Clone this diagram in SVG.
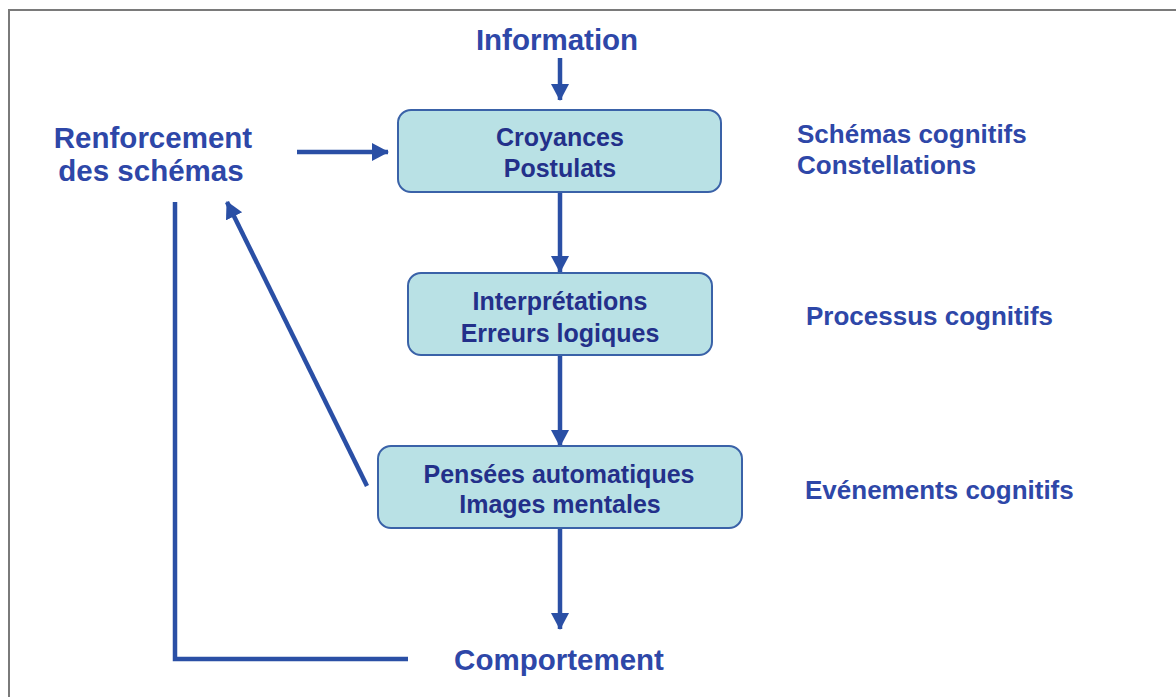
<svg xmlns="http://www.w3.org/2000/svg" width="1176" height="697" viewBox="0 0 1176 697">
  <style>
    .lbl { font-family: "Liberation Sans", Arial, sans-serif; font-weight: bold; fill: #2E47A8; }
    .big { font-size: 29.5px; }
    .side { font-size: 26px; }
    .box rect { fill: #B9E1E5; stroke: #3A62A8; stroke-width: 2; }
    .box text { font-family: "Liberation Sans", Arial, sans-serif; font-weight: bold; font-size: 25px; fill: #23308A; text-anchor: middle; }
    .conn { stroke: #2A4FA5; stroke-width: 4.5; fill: none; }
  </style>
  <defs>
    <marker id="head" markerUnits="userSpaceOnUse" markerWidth="20" markerHeight="20" refX="16" refY="9" orient="auto">
      <path d="M0,0 L17,9 L0,18 Z" fill="#2A4FA5"/>
    </marker>
  </defs>

  <rect width="1176" height="697" fill="#FFFFFF"/>
  <!-- page frame -->
  <path d="M9,697 V10 H1176" fill="none" stroke="#7A7A7A" stroke-width="2"/>

  <g id="connectors">
    <line class="conn" x1="560" y1="58" x2="560" y2="100" marker-end="url(#head)"/>
    <line class="conn" x1="297" y1="152" x2="388" y2="152" marker-end="url(#head)"/>
    <line class="conn" x1="560" y1="193" x2="560" y2="272" marker-end="url(#head)"/>
    <line class="conn" x1="560" y1="356" x2="560" y2="446" marker-end="url(#head)"/>
    <line class="conn" x1="560" y1="528" x2="560" y2="629" marker-end="url(#head)"/>
    <line class="conn" x1="367" y1="486" x2="227" y2="202" marker-end="url(#head)"/>
    <path class="conn" d="M175,202 V659 H408"/>
  </g>

  <g id="information">
    <text class="lbl big" x="557" y="50" text-anchor="middle">Information</text>
  </g>

  <g id="renforcement">
    <text class="lbl big" x="153" y="148" text-anchor="middle">Renforcement</text>
    <text class="lbl big" x="151" y="181" text-anchor="middle">des schémas</text>
  </g>

  <g id="croyances" class="box">
    <rect x="398" y="110" width="323" height="82" rx="13"/>
    <text x="560" y="146">Croyances</text>
    <text x="560" y="177">Postulats</text>
  </g>

  <g id="interpretations" class="box">
    <rect x="408" y="273" width="304" height="82" rx="13"/>
    <text x="560" y="310">Interprétations</text>
    <text x="560" y="342">Erreurs logiques</text>
  </g>

  <g id="pensees" class="box">
    <rect x="378" y="446" width="364" height="82" rx="13"/>
    <text x="559" y="483">Pensées automatiques</text>
    <text x="560" y="513">Images mentales</text>
  </g>

  <g id="comportement">
    <text class="lbl big" x="559" y="670" text-anchor="middle">Comportement</text>
  </g>

  <g id="schemas-cognitifs">
    <text class="lbl side" x="797" y="143">Schémas cognitifs</text>
    <text class="lbl side" x="797" y="174">Constellations</text>
  </g>

  <g id="processus-cognitifs">
    <text class="lbl side" x="806" y="325">Processus cognitifs</text>
  </g>

  <g id="evenements-cognitifs">
    <text class="lbl side" x="805" y="499">Evénements cognitifs</text>
  </g>
</svg>
